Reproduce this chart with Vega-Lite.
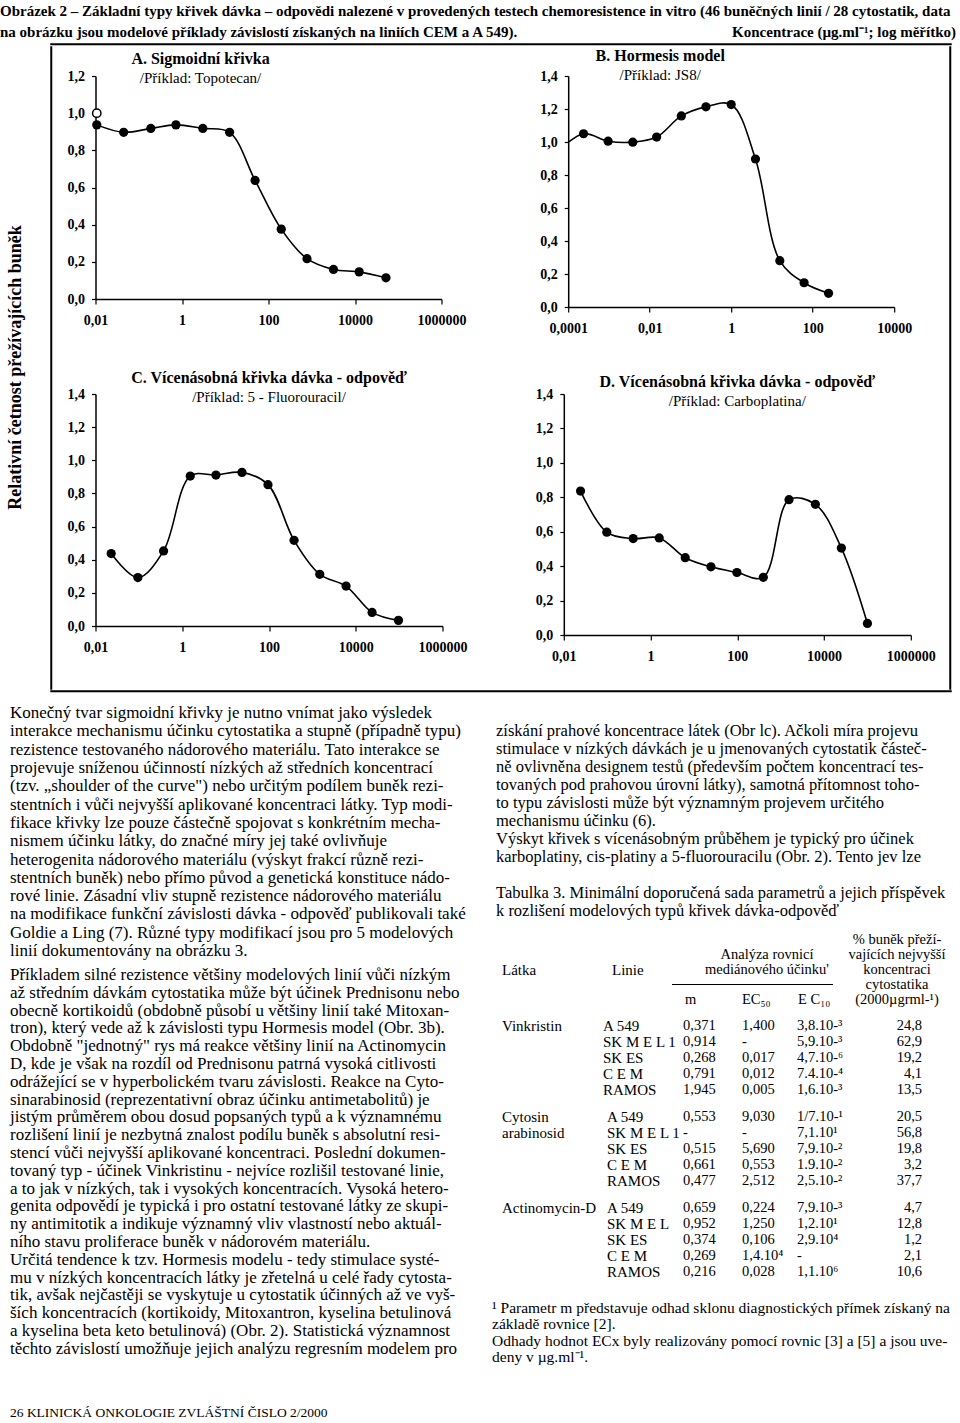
{
  "$schema": "https://vega.github.io/schema/vega-lite/v6.json",
  "padding": 0,
  "background": "white",
  "datasets": {
    "A": [
      {"dose": 0.0107, "surv": 0.937}, {"dose": 0.0448, "surv": 0.897}, {"dose": 0.19, "surv": 0.918},
      {"dose": 0.724, "surv": 0.937}, {"dose": 3.03, "surv": 0.918}, {"dose": 12.6, "surv": 0.897},
      {"dose": 49, "surv": 0.638}, {"dose": 197, "surv": 0.376}, {"dose": 777, "surv": 0.217},
      {"dose": 3180, "surv": 0.159}, {"dose": 12500, "surv": 0.146}, {"dose": 52000, "surv": 0.114}
    ],
    "B": [
      {"dose": 0.0000596, "surv": 0.95}, {"dose": 0.000238, "surv": 1.05}, {"dose": 0.000955, "surv": 1.005},
      {"dose": 0.00384, "surv": 0.999}, {"dose": 0.0148, "surv": 1.03}, {"dose": 0.0597, "surv": 1.158},
      {"dose": 0.24, "surv": 1.213}, {"dose": 1.0, "surv": 1.227}, {"dose": 3.94, "surv": 0.897},
      {"dose": 15.6, "surv": 0.281}, {"dose": 61.5, "surv": 0.147}, {"dose": 245, "surv": 0.083}
    ],
    "C": [
      {"dose": 0.023, "surv": 0.437}, {"dose": 0.0948, "surv": 0.292}, {"dose": 0.371, "surv": 0.453},
      {"dose": 1.53, "surv": 0.905}, {"dose": 5.98, "surv": 0.911}, {"dose": 23.8, "surv": 0.927},
      {"dose": 94.8, "surv": 0.853}, {"dose": 378, "surv": 0.517}, {"dose": 1480, "surv": 0.312},
      {"dose": 5980, "surv": 0.241}, {"dose": 23800, "surv": 0.082}, {"dose": 96600, "surv": 0.034}
    ],
    "D": [
      {"dose": 0.0243, "surv": 0.836}, {"dose": 0.098, "surv": 0.597}, {"dose": 0.398, "surv": 0.56},
      {"dose": 1.585, "surv": 0.564}, {"dose": 6.31, "surv": 0.449}, {"dose": 24.7, "surv": 0.396},
      {"dose": 98, "surv": 0.363}, {"dose": 398, "surv": 0.335}, {"dose": 1556, "surv": 0.786},
      {"dose": 6310, "surv": 0.759}, {"dose": 25100, "surv": 0.505}, {"dose": 100000, "surv": 0.067}
    ],
    "caption": [
      {"s": "L", "l": 1, "t": "Obrázek 2 – Základní typy křivek dávka – odpovědi nalezené v  provedených testech chemoresistence in vitro (46 buněčných linií / 28 cytostatik, data"},
      {"s": "L", "l": 2, "t": "na obrázku jsou modelové příklady závislostí získaných na liniích CEM a A 549)."},
      {"s": "R", "l": 2, "t": "Koncentrace (µg.ml⁻¹; log měřítko)"}
    ],
    "body": [
      {"p": 1, "l": 1, "t": "Konečný tvar sigmoidní křivky je nutno vnímat jako výsledek"},
      {"p": 1, "l": 2, "t": "interakce mechanismu účinku cytostatika a stupně (případně typu)"},
      {"p": 1, "l": 3, "t": "rezistence testovaného nádorového materiálu. Tato interakce se"},
      {"p": 1, "l": 4, "t": "projevuje sníženou účinností nízkých až středních koncentrací"},
      {"p": 1, "l": 5, "t": "(tzv. „shoulder of the curve\") nebo určitým podílem buněk rezi-"},
      {"p": 1, "l": 6, "t": "stentních i vůči nejvyšší aplikované koncentraci látky. Typ modi-"},
      {"p": 1, "l": 7, "t": "fikace křivky lze pouze částečně spojovat s konkrétním mecha-"},
      {"p": 1, "l": 8, "t": "nismem účinku látky, do značné míry jej také ovlivňuje"},
      {"p": 1, "l": 9, "t": "heterogenita nádorového materiálu (výskyt frakcí různě rezi-"},
      {"p": 1, "l": 10, "t": "stentních buněk) nebo přímo původ a genetická konstituce nádo-"},
      {"p": 1, "l": 11, "t": "rové linie. Zásadní vliv stupně rezistence nádorového materiálu"},
      {"p": 1, "l": 12, "t": "na modifikace funkční závislosti dávka - odpověď publikovali také"},
      {"p": 1, "l": 13, "t": "Goldie a Ling (7). Různé typy modifikací jsou pro 5 modelových"},
      {"p": 1, "l": 14, "t": "linií dokumentovány na obrázku 3."},
      {"p": 2, "l": 15, "t": "Příkladem silné rezistence většiny modelových linií vůči nízkým"},
      {"p": 2, "l": 16, "t": "až středním dávkám cytostatika může být účinek Prednisonu nebo"},
      {"p": 2, "l": 17, "t": "obecně kortikoidů (obdobně působí u většiny linií také Mitoxan-"},
      {"p": 2, "l": 18, "t": "tron), který vede až k závislosti typu Hormesis model (Obr. 3b)."},
      {"p": 2, "l": 19, "t": "Obdobně \"jednotný\" rys má reakce většiny linií na Actinomycin"},
      {"p": 2, "l": 20, "t": "D, kde je však na rozdíl od Prednisonu patrná vysoká citlivosti"},
      {"p": 2, "l": 21, "t": "odrážející se v hyperbolickém tvaru závislosti. Reakce na Cyto-"},
      {"p": 2, "l": 22, "t": "sinarabinosid (reprezentativní obraz účinku antimetabolitů) je"},
      {"p": 2, "l": 23, "t": "jistým průměrem obou dosud popsaných typů a k významnému"},
      {"p": 2, "l": 24, "t": "rozlišení linií je nezbytná znalost podílu buněk s absolutní resi-"},
      {"p": 2, "l": 25, "t": "stencí vůči nejvyšší aplikované koncentraci. Poslední dokumen-"},
      {"p": 2, "l": 26, "t": "tovaný typ - účinek Vinkristinu - nejvíce rozlišil testované linie,"},
      {"p": 2, "l": 27, "t": "a to jak v nízkých, tak i vysokých koncentracích. Vysoká hetero-"},
      {"p": 2, "l": 28, "t": "genita odpovědí je typická i pro ostatní testované látky ze skupi-"},
      {"p": 2, "l": 29, "t": "ny antimitotik a indikuje významný vliv vlastností nebo aktuál-"},
      {"p": 2, "l": 30, "t": "ního stavu proliferace buněk v nádorovém materiálu."},
      {"p": 2, "l": 31, "t": "Určitá tendence k tzv. Hormesis modelu - tedy stimulace systé-"},
      {"p": 2, "l": 32, "t": "mu v nízkých koncentracích látky je zřetelná u celé řady cytosta-"},
      {"p": 2, "l": 33, "t": "tik, avšak nejčastěji se vyskytuje u cytostatik účinných až ve vyš-"},
      {"p": 2, "l": 34, "t": "ších koncentracích (kortikoidy, Mitoxantron, kyselina betulinová"},
      {"p": 2, "l": 35, "t": "a kyselina beta keto betulinová) (Obr. 2). Statistická významnost"},
      {"p": 2, "l": 36, "t": "těchto závislostí umožňuje jejich analýzu regresním modelem pro"},
      {"p": 3, "l": 1, "t": "získání prahové koncentrace látek (Obr lc). Ačkoli míra projevu"},
      {"p": 3, "l": 2, "t": "stimulace v nízkých dávkách je u jmenovaných cytostatik částeč-"},
      {"p": 3, "l": 3, "t": "ně ovlivněna designem testů (především počtem koncentrací tes-"},
      {"p": 3, "l": 4, "t": "tovaných pod prahovou úrovní látky), samotná přítomnost toho-"},
      {"p": 3, "l": 5, "t": "to typu závislosti může být významným projevem určitého"},
      {"p": 3, "l": 6, "t": "mechanismu účinku (6)."},
      {"p": 3, "l": 7, "t": "Výskyt křivek s vícenásobným průběhem je typický pro účinek"},
      {"p": 3, "l": 8, "t": "karboplatiny, cis-platiny a 5-fluorouracilu (Obr. 2). Tento jev lze"},
      {"p": 3, "l": 10, "t": "Tabulka 3. Minimální doporučená sada parametrů a jejich příspěvek"},
      {"p": 3, "l": 11, "t": "k  rozlišení modelových typů křivek dávka-odpověď"}
    ],
    "hdr": [
      {"c": "pct", "l": 1, "t": "% buněk přeží-"},
      {"c": "pct", "l": 2, "t": "vajících  nejvyšší"},
      {"c": "pct", "l": 3, "t": "koncentraci"},
      {"c": "pct", "l": 4, "t": "cytostatika"},
      {"c": "pct", "l": 5, "t": "(2000µgrml-¹)"},
      {"c": "an", "l": 2, "t": "Analýza rovnicí"},
      {"c": "an", "l": 3, "t": "mediánového účinku'"},
      {"c": "latka", "l": 3, "t": "Látka"},
      {"c": "linie", "l": 3, "t": "Linie"},
      {"c": "m", "l": 5, "t": "m"},
      {"c": "ec50", "l": 5, "t": "EC₅₀"},
      {"c": "ec10", "l": 5, "t": "E C₁₀"}
    ],
    "tab": [
      {"g": 1, "r": 1, "latka": "Vinkristin", "linie": "A 549", "m": "0,371", "ec50": "1,400", "ec10": "3,8.10-³", "pct": "24,8"},
      {"g": 1, "r": 2, "latka": "", "linie": "SK M E L 1", "m": "0,914", "ec50": "-", "ec10": "5,9.10-³", "pct": "62,9"},
      {"g": 1, "r": 3, "latka": "", "linie": "SK ES", "m": "0,268", "ec50": "0,017", "ec10": "4,7.10-⁶", "pct": "19,2"},
      {"g": 1, "r": 4, "latka": "", "linie": "C E M", "m": "0,791", "ec50": "0,012", "ec10": "7.4.10-⁴", "pct": "4,1"},
      {"g": 1, "r": 5, "latka": "", "linie": "RAMOS", "m": "1,945", "ec50": "0,005", "ec10": "1,6.10-³", "pct": "13,5"},
      {"g": 2, "r": 1, "latka": "Cytosin", "linie": "A 549", "m": "0,553", "ec50": "9,030", "ec10": "1/7.10-¹", "pct": "20,5"},
      {"g": 2, "r": 2, "latka": "arabinosid", "linie": "SK M E L 1", "m": "-", "ec50": "-", "ec10": "7,1.10¹", "pct": "56,8"},
      {"g": 2, "r": 3, "latka": "", "linie": "SK ES", "m": "0,515", "ec50": "5,690", "ec10": "7,9.10-²", "pct": "19,8"},
      {"g": 2, "r": 4, "latka": "", "linie": "C E M", "m": "0,661", "ec50": "0,553", "ec10": "1.9.10-²", "pct": "3,2"},
      {"g": 2, "r": 5, "latka": "", "linie": "RAMOS", "m": "0,477", "ec50": "2,512", "ec10": "2,5.10-²", "pct": "37,7"},
      {"g": 3, "r": 1, "latka": "Actinomycin-D", "linie": "A 549", "m": "0,659", "ec50": "0,224", "ec10": "7,9.10-³", "pct": "4,7"},
      {"g": 3, "r": 2, "latka": "", "linie": "SK M E L", "m": "0,952", "ec50": "1,250", "ec10": "1,2.10¹", "pct": "12,8"},
      {"g": 3, "r": 3, "latka": "", "linie": "SK ES", "m": "0,374", "ec50": "0,106", "ec10": "2,9.10⁴", "pct": "1,2"},
      {"g": 3, "r": 4, "latka": "", "linie": "C E M", "m": "0,269", "ec50": "1,4.10⁴", "ec10": "-", "pct": "2,1"},
      {"g": 3, "r": 5, "latka": "", "linie": "RAMOS", "m": "0,216", "ec50": "0,028", "ec10": "1,1.10⁶", "pct": "10,6"}
    ],
    "notes": [
      {"l": 1, "t": "¹ Parametr m představuje odhad sklonu diagnostických přímek získaný na"},
      {"l": 2, "t": "základě rovnice  [2]."},
      {"l": 3, "t": "Odhady hodnot ECx byly realizovány pomocí rovnic [3] a [5] a jsou uve-"},
      {"l": 4, "t": "deny v  µg.ml⁻¹."}
    ]
  },
  "concat": [
    {
      "concat": [
        {
          "width": 960, "height": 43,
          "data": {"name": "caption"},
          "encoding": {
            "y": {"field": "l", "type": "ordinal", "axis": null, "scale": {"domain": [1, 2]}},
            "text": {"field": "t", "type": "nominal"}
          },
          "layer": [
            {"transform": [{"filter": "datum.s == 'L'"}], "mark": {"type": "text", "align": "left", "x": 0, "fontSize": 15, "fontWeight": "bold", "limit": 958}},
            {"transform": [{"filter": "datum.s == 'R'"}], "mark": {"type": "text", "align": "right", "x": 956, "fontSize": 15, "fontWeight": "bold"}}
          ]
        },
        {
          "concat": [
            {
              "width": 50, "height": 647,
              "data": {"values": [{"t": "Relativní četnost přežívajících buněk"}]},
              "mark": {"type": "text", "angle": 270, "x": 16, "fontSize": 18, "fontWeight": "bold"},
              "encoding": {"text": {"field": "t", "type": "nominal"}}
            },
            {
              "concat": [
                {"width": 900, "height": 0.5, "view": {"stroke": "black", "strokeWidth": 1.5}, "data": {"values": []}, "mark": "point"},
                {
                  "concat": [
                    {"width": 0.5, "height": 642, "view": {"stroke": "black", "strokeWidth": 1.5}, "data": {"values": []}, "mark": "point"},
                    {
                      "concat": [
                        {"width": 10, "height": 1, "data": {"values": []}, "mark": "point"},
                        {
                          "concat": [
                            {
                              "concat": [
                                {
                                  "width": 346, "height": 223,
                                  "data": {"name": "A"},
                                  "title": {"text": "A. Sigmoidní křivka", "subtitle": "/Příklad: Topotecan/", "anchor": "start", "frame": "group", "align": "center", "dx": 105, "offset": -17},
                                  "encoding": {
                                    "x": {"field": "dose", "type": "quantitative", "scale": {"type": "log", "domain": [0.01, 1000000], "nice": false},
                                      "axis": {"values": [0.01, 1, 100, 10000, 1000000], "labelExpr": "replace(datum.value + '', '.', ',')", "title": null, "tickSize": 5, "labelPadding": 9}},
                                    "y": {"field": "surv", "type": "quantitative", "scale": {"domain": [0, 1.2], "nice": false},
                                      "axis": {"values": [0, 0.2, 0.4, 0.6, 0.8, 1, 1.2], "labelExpr": "replace(format(datum.value, '.1f'), '.', ',')", "title": null, "tickSize": 4, "labelPadding": 7, "minExtent": 0}}
                                  },
                                  "layer": [
                                    {"mark": {"type": "line", "interpolate": "catmull-rom", "color": "black", "strokeWidth": 1.6}},
                                    {"mark": {"type": "point", "filled": true, "color": "black", "size": 85, "opacity": 1}},
                                    {"data": {"values": [{"dose": 0.0107, "surv": 1.0}]}, "mark": {"type": "point", "filled": true, "fill": "white", "stroke": "black", "strokeWidth": 1.5, "size": 70, "opacity": 1}}
                                  ]
                                },
                                {
                                  "width": 326, "height": 231,
                                  "data": {"name": "B"},
                                  "title": {"text": "B. Hormesis model", "subtitle": "/Příklad: JS8/", "anchor": "start", "frame": "group", "align": "center", "dx": 92, "offset": -14},
                                  "encoding": {
                                    "x": {"field": "dose", "type": "quantitative", "scale": {"type": "log", "domain": [0.0001, 10000], "nice": false},
                                      "axis": {"values": [0.0001, 0.01, 1, 100, 10000], "labelExpr": "replace(datum.value + '', '.', ',')", "title": null, "tickSize": 5, "labelPadding": 9}},
                                    "y": {"field": "surv", "type": "quantitative", "scale": {"domain": [0, 1.4], "nice": false},
                                      "axis": {"values": [0, 0.2, 0.4, 0.6, 0.8, 1, 1.2, 1.4], "labelExpr": "replace(format(datum.value, '.1f'), '.', ',')", "title": null, "tickSize": 4, "labelPadding": 7, "minExtent": 0}}
                                  },
                                  "layer": [
                                    {"mark": {"type": "line", "interpolate": "catmull-rom", "color": "black", "strokeWidth": 1.6, "clip": true}},
                                    {"mark": {"type": "point", "filled": true, "color": "black", "size": 85, "opacity": 1, "clip": true}}
                                  ]
                                }
                              ],
                              "columns": 2, "align": "none", "spacing": 72.7
                            },
                            {
                              "concat": [
                                {
                                  "width": 347, "height": 232,
                                  "data": {"name": "C"},
                                  "title": {"text": "C. Vícenásobná křivka dávka - odpověď", "subtitle": "/Příklad: 5 - Fluorouracil/", "anchor": "middle", "frame": "group", "offset": -18},
                                  "encoding": {
                                    "x": {"field": "dose", "type": "quantitative", "scale": {"type": "log", "domain": [0.01, 1000000], "nice": false},
                                      "axis": {"values": [0.01, 1, 100, 10000, 1000000], "labelExpr": "replace(datum.value + '', '.', ',')", "title": null, "tickSize": 5, "labelPadding": 9}},
                                    "y": {"field": "surv", "type": "quantitative", "scale": {"domain": [0, 1.4], "nice": false},
                                      "axis": {"values": [0, 0.2, 0.4, 0.6, 0.8, 1, 1.2, 1.4], "labelExpr": "replace(format(datum.value, '.1f'), '.', ',')", "title": null, "tickSize": 4, "labelPadding": 7, "minExtent": 0}}
                                  },
                                  "layer": [
                                    {"mark": {"type": "line", "interpolate": "catmull-rom", "color": "black", "strokeWidth": 1.6}},
                                    {"mark": {"type": "point", "filled": true, "color": "black", "size": 85, "opacity": 1}}
                                  ]
                                },
                                {
                                  "width": 347, "height": 241,
                                  "data": {"name": "D"},
                                  "title": {"text": "D. Vícenásobná křivka dávka - odpověď", "subtitle": "/Příklad: Carboplatina/", "anchor": "middle", "frame": "group", "offset": -22},
                                  "encoding": {
                                    "x": {"field": "dose", "type": "quantitative", "scale": {"type": "log", "domain": [0.01, 1000000], "nice": false},
                                      "axis": {"values": [0.01, 1, 100, 10000, 1000000], "labelExpr": "replace(datum.value + '', '.', ',')", "title": null, "tickSize": 5, "labelPadding": 9}},
                                    "y": {"field": "surv", "type": "quantitative", "scale": {"domain": [0, 1.4], "nice": false},
                                      "axis": {"values": [0, 0.2, 0.4, 0.6, 0.8, 1, 1.2, 1.4], "labelExpr": "replace(format(datum.value, '.1f'), '.', ',')", "title": null, "tickSize": 4, "labelPadding": 7, "minExtent": 0}}
                                  },
                                  "layer": [
                                    {"mark": {"type": "line", "interpolate": "catmull-rom", "color": "black", "strokeWidth": 1.6}},
                                    {"mark": {"type": "point", "filled": true, "color": "black", "size": 85, "opacity": 1}}
                                  ]
                                }
                              ],
                              "columns": 2, "align": "none", "spacing": 67.3
                            }
                          ],
                          "columns": 1, "align": "none", "spacing": 35
                        }
                      ],
                      "columns": 1, "align": "none", "spacing": 0
                    },
                    {"width": 0.5, "height": 642, "view": {"stroke": "black", "strokeWidth": 1.5}, "data": {"values": []}, "mark": "point"}
                  ],
                  "columns": 3, "align": "none", "spacing": 13.5
                },
                {"width": 900, "height": 0.5, "view": {"stroke": "black", "strokeWidth": 1.5}, "data": {"values": []}, "mark": "point"}
              ],
              "columns": 1, "align": "none", "spacing": 0
            }
          ],
          "columns": 2, "align": "none", "spacing": 0
        }
      ],
      "columns": 1, "align": "none", "spacing": 0
    },
    {
      "concat": [
        {
          "concat": [
            {
              "width": 490, "height": {"step": 18.3},
              "data": {"name": "body"},
              "transform": [{"filter": "datum.p == 1"}],
              "mark": {"type": "text", "align": "left", "x": 10, "fontSize": 17, "limit": 478},
              "encoding": {"y": {"field": "l", "type": "ordinal", "axis": null}, "text": {"field": "t", "type": "nominal"}}
            },
            {
              "width": 490, "height": {"step": 17.8},
              "data": {"name": "body"},
              "transform": [{"filter": "datum.p == 2"}],
              "mark": {"type": "text", "align": "left", "x": 10, "fontSize": 17, "limit": 478},
              "encoding": {"y": {"field": "l", "type": "ordinal", "axis": null}, "text": {"field": "t", "type": "nominal"}}
            }
          ],
          "columns": 1, "align": "none", "spacing": 4
        },
        {
          "concat": [
            {
              "width": 470, "height": {"step": 18},
              "data": {"name": "body"},
              "transform": [{"filter": "datum.p == 3"}],
              "mark": {"type": "text", "align": "left", "x": 6, "fontSize": 16.5, "limit": 464},
              "encoding": {"y": {"field": "l", "type": "ordinal", "axis": null, "scale": {"domain": [0, 1, 2, 3, 4, 5, 6, 7, 8, 9, 10, 11]}}, "text": {"field": "t", "type": "nominal"}}
            },
            {
              "width": 470, "height": {"step": 15},
              "data": {"name": "hdr"},
              "encoding": {"y": {"field": "l", "type": "ordinal", "axis": null}},
              "layer": [
                {"transform": [{"filter": "datum.c == 'latka'"}], "mark": {"type": "text", "align": "left", "x": 12, "fontSize": 15}, "encoding": {"text": {"field": "t", "type": "nominal"}}},
                {"transform": [{"filter": "datum.c == 'linie'"}], "mark": {"type": "text", "align": "left", "x": 122, "fontSize": 15}, "encoding": {"text": {"field": "t", "type": "nominal"}}},
                {"transform": [{"filter": "datum.c == 'an'"}], "mark": {"type": "text", "align": "center", "x": 277, "fontSize": 14.5}, "encoding": {"text": {"field": "t", "type": "nominal"}}},
                {"transform": [{"filter": "datum.c == 'm'"}], "mark": {"type": "text", "align": "left", "x": 195, "fontSize": 14.5}, "encoding": {"text": {"field": "t", "type": "nominal"}}},
                {"transform": [{"filter": "datum.c == 'ec50'"}], "mark": {"type": "text", "align": "left", "x": 252, "fontSize": 14.5}, "encoding": {"text": {"field": "t", "type": "nominal"}}},
                {"transform": [{"filter": "datum.c == 'ec10'"}], "mark": {"type": "text", "align": "left", "x": 308, "fontSize": 14.5}, "encoding": {"text": {"field": "t", "type": "nominal"}}},
                {"transform": [{"filter": "datum.c == 'pct'"}], "mark": {"type": "text", "align": "center", "x": 407, "fontSize": 14.5}, "encoding": {"text": {"field": "t", "type": "nominal"}}},
                {"data": {"values": [{"l": 4}]}, "mark": {"type": "rule", "x": 182, "x2": 343, "color": "black", "strokeWidth": 1}}
              ]
            },
            {
              "width": 470, "height": {"step": 16},
              "data": {"name": "tab"},
              "transform": [{"filter": "datum.g == 1"}],
              "encoding": {"y": {"field": "r", "type": "ordinal", "axis": null}},
              "layer": [
                {"mark": {"type": "text", "align": "left", "x": 12, "fontSize": 15}, "encoding": {"text": {"field": "latka", "type": "nominal"}}},
                {"mark": {"type": "text", "align": "left", "x": 113, "fontSize": 15}, "encoding": {"text": {"field": "linie", "type": "nominal"}}},
                {"mark": {"type": "text", "align": "left", "x": 193, "fontSize": 14.5}, "encoding": {"text": {"field": "m", "type": "nominal"}}},
                {"mark": {"type": "text", "align": "left", "x": 252, "fontSize": 14.5}, "encoding": {"text": {"field": "ec50", "type": "nominal"}}},
                {"mark": {"type": "text", "align": "left", "x": 307, "fontSize": 14.5}, "encoding": {"text": {"field": "ec10", "type": "nominal"}}},
                {"mark": {"type": "text", "align": "right", "x": 432, "fontSize": 14.5}, "encoding": {"text": {"field": "pct", "type": "nominal"}}}
              ]
            },
            {
              "width": 470, "height": {"step": 16},
              "data": {"name": "tab"},
              "transform": [{"filter": "datum.g == 2"}],
              "encoding": {"y": {"field": "r", "type": "ordinal", "axis": null}},
              "layer": [
                {"mark": {"type": "text", "align": "left", "x": 12, "fontSize": 15}, "encoding": {"text": {"field": "latka", "type": "nominal"}}},
                {"mark": {"type": "text", "align": "left", "x": 117, "fontSize": 15}, "encoding": {"text": {"field": "linie", "type": "nominal"}}},
                {"mark": {"type": "text", "align": "left", "x": 193, "fontSize": 14.5}, "encoding": {"text": {"field": "m", "type": "nominal"}}},
                {"mark": {"type": "text", "align": "left", "x": 252, "fontSize": 14.5}, "encoding": {"text": {"field": "ec50", "type": "nominal"}}},
                {"mark": {"type": "text", "align": "left", "x": 307, "fontSize": 14.5}, "encoding": {"text": {"field": "ec10", "type": "nominal"}}},
                {"mark": {"type": "text", "align": "right", "x": 432, "fontSize": 14.5}, "encoding": {"text": {"field": "pct", "type": "nominal"}}}
              ]
            },
            {
              "width": 470, "height": {"step": 16},
              "data": {"name": "tab"},
              "transform": [{"filter": "datum.g == 3"}],
              "encoding": {"y": {"field": "r", "type": "ordinal", "axis": null}},
              "layer": [
                {"mark": {"type": "text", "align": "left", "x": 12, "fontSize": 15}, "encoding": {"text": {"field": "latka", "type": "nominal"}}},
                {"mark": {"type": "text", "align": "left", "x": 117, "fontSize": 15}, "encoding": {"text": {"field": "linie", "type": "nominal"}}},
                {"mark": {"type": "text", "align": "left", "x": 193, "fontSize": 14.5}, "encoding": {"text": {"field": "m", "type": "nominal"}}},
                {"mark": {"type": "text", "align": "left", "x": 252, "fontSize": 14.5}, "encoding": {"text": {"field": "ec50", "type": "nominal"}}},
                {"mark": {"type": "text", "align": "left", "x": 307, "fontSize": 14.5}, "encoding": {"text": {"field": "ec10", "type": "nominal"}}},
                {"mark": {"type": "text", "align": "right", "x": 432, "fontSize": 14.5}, "encoding": {"text": {"field": "pct", "type": "nominal"}}}
              ]
            },
            {
              "width": 470, "height": {"step": 16.3},
              "data": {"name": "notes"},
              "mark": {"type": "text", "align": "left", "x": 2, "dy": 9, "fontSize": 15.5, "limit": 466},
              "encoding": {"y": {"field": "l", "type": "ordinal", "axis": null}, "text": {"field": "t", "type": "nominal"}}
            }
          ],
          "columns": 1, "align": "none", "spacing": 11
        }
      ],
      "columns": 2, "align": "none", "spacing": 0
    },
    {
      "width": 960, "height": 43,
      "data": {"values": [{"t": "26 KLINICKÁ ONKOLOGIE ZVLÁŠTNÍ ČISLO 2/2000"}]},
      "mark": {"type": "text", "align": "left", "baseline": "bottom", "x": 10, "y": 43, "fontSize": 13.5},
      "encoding": {"text": {"field": "t", "type": "nominal"}}
    }
  ],
  "columns": 1,
  "align": "none",
  "spacing": 11,
  "config": {
    "view": {"stroke": null},
    "font": "Liberation Serif",
    "axis": {"labelFont": "Liberation Serif", "labelFontSize": 14, "labelFontWeight": "bold", "labelColor": "black", "domainColor": "black", "domainWidth": 1.5, "tickColor": "black", "tickWidth": 1.2, "grid": false, "labelFlush": false, "labelOverlap": false},
    "title": {"font": "Liberation Serif", "fontSize": 16, "fontWeight": "bold", "color": "black", "subtitleFont": "Liberation Serif", "subtitleFontSize": 15, "subtitleColor": "black", "subtitlePadding": 4},
    "text": {"font": "Liberation Serif", "color": "black"}
  }
}
